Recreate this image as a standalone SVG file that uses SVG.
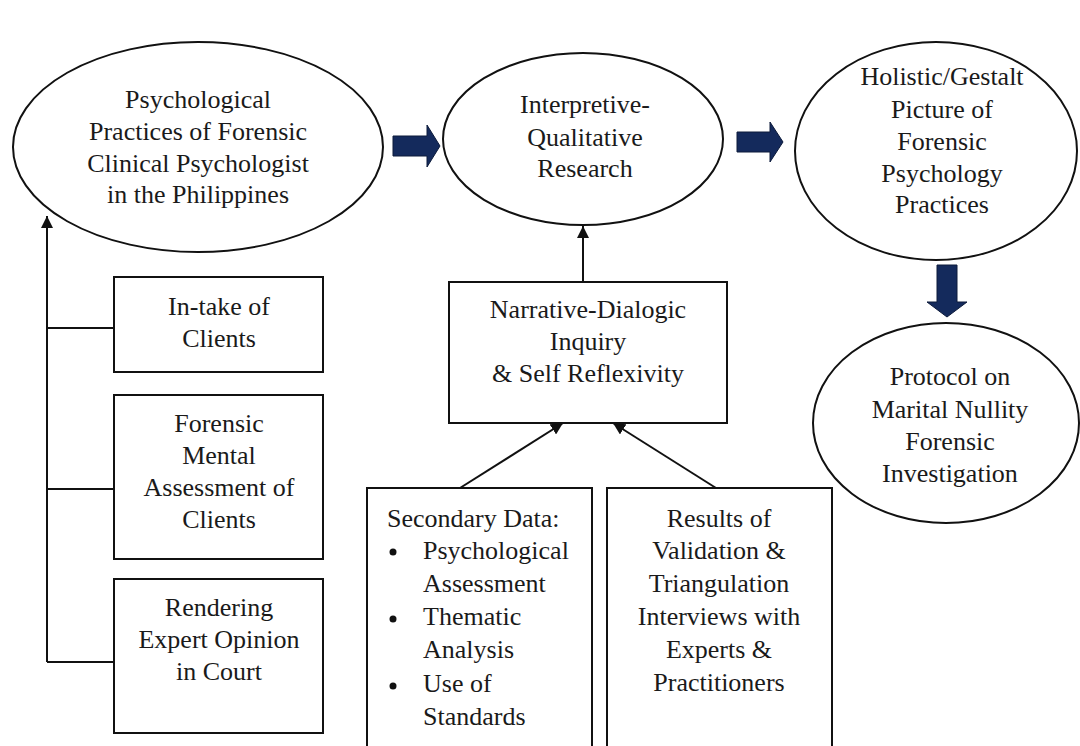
<svg xmlns="http://www.w3.org/2000/svg" width="1080" height="746" viewBox="0 0 1080 746">
  <style>
    .shape { fill: #ffffff; stroke: #111111; stroke-width: 2; }
    .line { fill: none; stroke: #111111; stroke-width: 2; }
    .block { fill: #142a5c; stroke: #0c1a3a; stroke-width: 1; }
    text { font-family: "Liberation Serif", "Times New Roman", serif; font-size: 26px; fill: #1a1a1a; }
    .c { text-anchor: middle; }
  </style>
  <defs>
    <marker id="tip" viewBox="0 0 10 10" refX="10" refY="5" markerWidth="12" markerHeight="12" markerUnits="userSpaceOnUse" orient="auto">
      <path d="M0,0 L10,5 L0,10 z" fill="#111111"/>
    </marker>
  </defs>

  <rect width="1080" height="746" fill="#ffffff"/>

  <!-- connectors -->
  <g id="connectors">
    <!-- left bracket feeding the practices ellipse -->
    <path class="line" d="M47,662 L47,229"/>
    <path class="line" d="M47,230 L47,216" marker-end="url(#tip)"/>
    <path class="line" d="M47,328 L114,328"/>
    <path class="line" d="M47,489 L114,489"/>
    <path class="line" d="M47,662 L114,662"/>
    <!-- inquiry box up to research ellipse -->
    <path class="line" d="M583,282 L583,226" marker-end="url(#tip)"/>
    <!-- data boxes to inquiry box -->
    <path class="line" d="M460,488 L563,423" marker-end="url(#tip)"/>
    <path class="line" d="M716,488 L613,423" marker-end="url(#tip)"/>
    <!-- block arrows -->
    <polygon class="block" points="393,136 427,136 427,125 440,146 427,167 427,156 393,156"/>
    <polygon class="block" points="737,132 770,132 770,122 783,142 770,162 770,152 737,152"/>
    <polygon class="block" points="937,265 957,265 957,302 967,302 947,317 927,302 937,302"/>
  </g>

  <g id="practices">
    <ellipse class="shape" cx="198" cy="147" rx="185" ry="105"/>
    <text class="c" x="198" y="108">Psychological</text>
    <text class="c" x="198" y="140">Practices of Forensic</text>
    <text class="c" x="198" y="172">Clinical Psychologist</text>
    <text class="c" x="198" y="203">in the Philippines</text>
  </g>

  <g id="research">
    <ellipse class="shape" cx="583" cy="139" rx="140" ry="86"/>
    <text class="c" x="585" y="113">Interpretive-</text>
    <text class="c" x="585" y="146">Qualitative</text>
    <text class="c" x="585" y="177">Research</text>
  </g>

  <g id="holistic">
    <ellipse class="shape" cx="936" cy="151" rx="141" ry="109"/>
    <text class="c" x="942" y="85">Holistic/Gestalt</text>
    <text class="c" x="942" y="118">Picture of</text>
    <text class="c" x="942" y="150">Forensic</text>
    <text class="c" x="942" y="182">Psychology</text>
    <text class="c" x="942" y="213">Practices</text>
  </g>

  <g id="protocol">
    <ellipse class="shape" cx="946" cy="423" rx="133" ry="100"/>
    <text class="c" x="950" y="385">Protocol on</text>
    <text class="c" x="950" y="418">Marital Nullity</text>
    <text class="c" x="950" y="450">Forensic</text>
    <text class="c" x="950" y="482">Investigation</text>
  </g>

  <g id="intake">
    <rect class="shape" x="114" y="277" width="209" height="95"/>
    <text class="c" x="219" y="315">In-take of</text>
    <text class="c" x="219" y="347">Clients</text>
  </g>

  <g id="assessment">
    <rect class="shape" x="114" y="395" width="209" height="164"/>
    <text class="c" x="219" y="432">Forensic</text>
    <text class="c" x="219" y="464">Mental</text>
    <text class="c" x="219" y="496">Assessment of</text>
    <text class="c" x="219" y="528">Clients</text>
  </g>

  <g id="opinion">
    <rect class="shape" x="114" y="579" width="209" height="154"/>
    <text class="c" x="219" y="616">Rendering</text>
    <text class="c" x="219" y="648">Expert Opinion</text>
    <text class="c" x="219" y="680">in Court</text>
  </g>

  <g id="inquiry">
    <rect class="shape" x="449" y="282" width="278" height="141"/>
    <text class="c" x="588" y="318">Narrative-Dialogic</text>
    <text class="c" x="588" y="350">Inquiry</text>
    <text class="c" x="588" y="382">&amp; Self Reflexivity</text>
  </g>

  <g id="secondary">
    <rect class="shape" x="367" y="488" width="225" height="280"/>
    <text x="387" y="527">Secondary Data:</text>
    <circle cx="393" cy="552" r="3.5" fill="#111111"/>
    <text x="423" y="559">Psychological</text>
    <text x="423" y="592">Assessment</text>
    <circle cx="393" cy="619" r="3.5" fill="#111111"/>
    <text x="423" y="625">Thematic</text>
    <text x="423" y="658">Analysis</text>
    <circle cx="393" cy="686" r="3.5" fill="#111111"/>
    <text x="423" y="692">Use of</text>
    <text x="423" y="725">Standards</text>
  </g>

  <g id="validation">
    <rect class="shape" x="607" y="488" width="225" height="280"/>
    <text class="c" x="719" y="527">Results of</text>
    <text class="c" x="719" y="559">Validation &amp;</text>
    <text class="c" x="719" y="592">Triangulation</text>
    <text class="c" x="719" y="625">Interviews with</text>
    <text class="c" x="719" y="658">Experts &amp;</text>
    <text class="c" x="719" y="691">Practitioners</text>
  </g>
</svg>
